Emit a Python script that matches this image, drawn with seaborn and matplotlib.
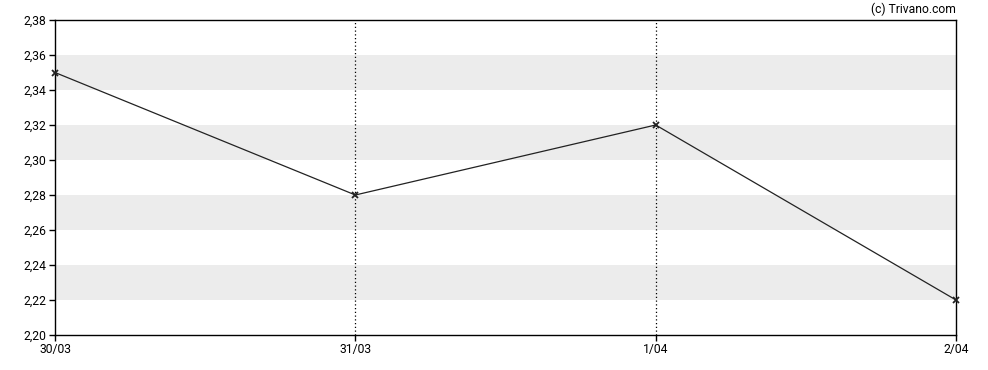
import matplotlib
matplotlib.use("Agg")
import matplotlib.pyplot as plt
import seaborn as sns
import pandas as pd

dates = ["30/03", "31/03", "1/04", "2/04"]
prices = [2.35, 2.28, 2.32, 2.22]
y_ticks = [2.20, 2.22, 2.24, 2.26, 2.28, 2.30, 2.32, 2.34, 2.36, 2.38]
bands = [(2.22, 2.24), (2.26, 2.28), (2.30, 2.32), (2.34, 2.36)]

sns.set_style("white")
plt.rcParams['font.family'] = ['Roboto', 'DejaVu Sans']

df = pd.DataFrame({"x": range(len(dates)), "price": prices})

fig = plt.figure(figsize=(9.88, 3.70), dpi=100)
ax = fig.add_axes([55/988, 1-335/370, (956-55)/988, (335-20)/370])

for lo, hi in bands:
    ax.axhspan(lo, hi, color="#ececec", lw=0, zorder=0)
for i in range(1, len(dates)-1):
    ax.axvline(i, color="black", ls=(0, (1, 2)), lw=0.9, zorder=1)

sns.lineplot(data=df, x="x", y="price", ax=ax, color="#222222", lw=0.9,
             marker="x", markersize=4, markeredgewidth=1.3, markeredgecolor="#222222",
             zorder=3, clip_on=False)

ax.set_xlim(0, len(dates)-1)
ax.set_ylim(2.20, 2.38)
ax.set_xticks(range(len(dates)))
ax.set_xticklabels(dates)
ax.set_yticks(y_ticks)
ax.set_yticklabels([f"{v:.2f}".replace(".", ",") for v in y_ticks])
ax.set_xlabel("")
ax.set_ylabel("")
ax.tick_params(axis="both", direction="out", length=4, width=1, color="black",
               labelsize=8.7, labelcolor="black", pad=2, bottom=True, left=True)
for s in ax.spines.values():
    s.set_color("black")
    s.set_linewidth(1)
    s.set_visible(True)

fig.text(956/988, 1-9/370, "(c) Trivano.com", ha="right", va="center", fontsize=8.7, color="black")

fig.savefig("out.png", dpi=100)
